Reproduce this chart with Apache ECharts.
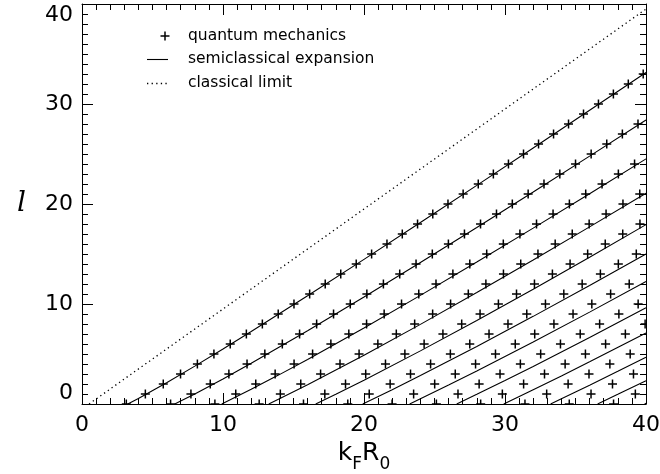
<!DOCTYPE html>
<html><head><meta charset="utf-8">
<script src="https://cdn.jsdelivr.net/npm/echarts/dist/echarts.min.js"></script>
<style>html,body{margin:0;padding:0;background:#fff}#c{width:660px;height:474px}</style>
</head><body><div id="c"></div>
<script>
// ---- data: tick labels ----
const xTicks = [0, 10, 20, 30, 40];
const yTicks = [0, 10, 20, 30, 40];

// ---- quantum mechanics: k_F R_0 value for l = 0,1,2,... on each branch n ----
const qm1 = [3.142, 4.493, 5.764, 6.988, 8.183, 9.356, 10.513, 11.657, 12.791, 13.916, 15.034, 16.145, 17.250, 18.351, 19.448, 20.540, 21.629, 22.715, 23.798, 24.878, 25.956, 27.031, 28.104, 29.175, 30.245, 31.313, 32.379, 33.443, 34.506, 35.568, 36.628, 37.687, 38.745, 39.802];
const qm2 = [6.283, 7.725, 9.095, 10.417, 11.705, 12.967, 14.207, 15.431, 16.641, 17.840, 19.025, 20.203, 21.376, 22.533, 23.691, 24.845, 25.985, 27.124, 28.264, 29.396, 30.519, 31.642, 32.765, 33.888, 35.002, 36.110, 37.217, 38.324, 39.432];
const qm3 = [9.425, 10.904, 12.323, 13.698, 15.040, 16.354, 17.650, 18.923, 20.182, 21.429, 22.662, 23.884, 25.106, 26.304, 27.503, 28.702, 29.880, 31.057, 32.235, 33.408, 34.566, 35.724, 36.882, 38.040, 39.189];
const qm4 = [12.566, 14.066, 15.515, 16.921, 18.298, 19.651, 20.983, 22.291, 23.593, 24.868, 26.141, 27.397, 28.644, 29.890, 31.115, 32.337, 33.559, 34.769, 35.968, 37.167, 38.366, 39.557];
const qm5 = [15.708, 17.221, 18.689, 20.121, 21.523, 22.899, 24.264, 25.597, 26.929, 28.231, 29.532, 30.816, 32.089, 33.362, 34.616, 35.862, 37.109, 38.349, 39.571];
const qm6 = [18.850, 20.371, 21.854, 23.299, 24.723, 26.125, 27.502, 28.867, 30.211, 31.544, 32.869, 34.171, 35.473, 36.765, 38.038, 39.311];
const qm7 = [21.991, 23.519, 25.013, 26.472, 27.912, 29.325, 30.727, 32.107, 33.470, 34.826, 36.158, 37.491, 38.810];
const qm8 = [25.133, 26.666, 28.165, 29.647, 31.090, 32.530, 33.933, 35.334, 36.712, 38.077, 39.443];
const qm9 = [28.274, 29.812, 31.320, 32.802, 34.264, 35.704, 37.134, 38.536, 39.937];
const qm10 = [31.416, 32.956, 34.476, 35.957, 37.438, 38.879];
const qm11 = [34.558, 36.101, 37.624, 39.112];
const qm12 = [37.699, 39.244];

// ---- semiclassical expansion: [k_F R_0, l] along each branch ----
const sc1 = [[3.248,0],[4,0.554],[6,2.128],[8,3.789],[10,5.502],[12,7.251],[16,10.824],[20,14.463],[24,18.147],[28,21.865],[32,25.608],[36,29.372],[40,33.153]];
const sc2 = [[6.58,0],[7,0.293],[8,1.011],[10,2.510],[12,4.072],[16,7.324],[20,10.693],[24,14.141],[28,17.647],[32,21.199],[36,24.787],[40,28.404]];
const sc3 = [[9.91,0],[10,0.060],[12,1.468],[14,2.939],[16,4.459],[20,7.606],[24,10.861],[28,14.195],[32,17.589],[36,21.032],[40,24.515]];
const sc4 = [[13.245,0],[14,0.518],[16,1.927],[20,4.878],[24,7.962],[28,11.143],[32,14.399],[36,17.714],[40,21.078]];
const sc5 = [[16.577,0],[18,0.976],[20,2.385],[24,5.312],[28,8.354],[32,11.482],[36,14.680],[40,17.936]];
const sc6 = [[19.909,0],[20,0.061],[22,1.434],[24,2.844],[28,5.754],[32,8.764],[36,11.854],[40,15.009]];
const sc7 = [[23.24,0],[24,0.514],[26,1.892],[28,3.302],[32,6.200],[36,9.187],[40,12.247]];
const sc8 = [[26.575,0],[28,0.968],[30,2.351],[32,3.760],[36,6.650],[40,9.618]];
const sc9 = [[29.91,0],[32,1.423],[34,2.809],[36,4.219],[40,7.100]];
const sc10 = [[33.236,0],[34,0.514],[36,1.879],[38,3.268],[40,4.677]];
const sc11 = [[36.569,0],[38,0.966],[40,2.335]];
const sc12 = [[39.903,0],[40,0.065]];

// ---- classical limit ----
const classical = [[0.5,0],[40,39.5]];

// ---- legend labels ----
const legendLabels = ['quantum mechanics', 'semiclassical expansion', 'classical limit'];

const qmBranches = [qm1, qm2, qm3, qm4, qm5, qm6, qm7, qm8, qm9, qm10, qm11, qm12];
const scBranches = [sc1, sc2, sc3, sc4, sc5, sc6, sc7, sc8, sc9, sc10, sc11, sc12];

const qmData = [];
qmBranches.forEach(b => b.forEach((x, l) => qmData.push([x, l])));

const chart = echarts.init(document.getElementById('c'), null, {renderer: 'canvas'});

const axisBase = {
  type: 'value', min: 0, max: 40, interval: 10,
  axisLine: {show: true, onZero: false, lineStyle: {color: '#000', width: 1}},
  axisTick: {show: true, inside: true, length: 11, lineStyle: {color: '#000', width: 1}},
  minorTick: {show: true, splitNumber: 10, length: 6, lineStyle: {color: '#000', width: 1}},
  splitLine: {show: false},
  minorSplitLine: {show: false}
};
const labelStyle = {color: '#000', fontFamily: 'DejaVu Sans', fontSize: 22};

const series = [];
scBranches.forEach((b, i) => series.push({
  name: legendLabels[1], type: 'line', data: b, symbol: 'none', showSymbol: false,
  lineStyle: {color: '#000', width: 1.1}, silent: true, clip: true, z: 2
}));
series.push({
  name: legendLabels[2], type: 'line', data: classical, symbol: 'none', showSymbol: false,
  lineStyle: {color: '#000', width: 1.3, type: [1.3, 3.3]}, silent: true, clip: true, z: 2
});
series.push({
  name: legendLabels[0], type: 'custom', data: qmData, clip: true, silent: true, z: 3,
  encode: {x: 0, y: 1},
  renderItem: function (params, api) {
    const p = api.coord([api.value(0), api.value(1)]);
    const h = 4.5;
    return {type: 'group', children: [
      {type: 'line', shape: {x1: p[0] - h, y1: p[1], x2: p[0] + h, y2: p[1]}, style: {stroke: '#000', lineWidth: 1.5}},
      {type: 'line', shape: {x1: p[0], y1: p[1] - h, x2: p[0], y2: p[1] + h}, style: {stroke: '#000', lineWidth: 1.5}}
    ]};
  }
});

const legendFont = {fontFamily: 'DejaVu Sans', fontSize: 15.5, fill: '#000'};

chart.setOption({
  animation: false,
  backgroundColor: '#fff',
  grid: {left: 82, right: 14, top: 4, bottom: 70, containLabel: false, outerBoundsMode: 'none'},
  xAxis: [
    Object.assign({}, axisBase, {
      position: 'bottom',
      axisLabel: Object.assign({}, labelStyle, {margin: 10, formatter: v => xTicks.includes(v) ? String(v) : ''}),
      name: '{m|k}{s|F}{m|R}{s|0}', nameLocation: 'middle', nameGap: 28,
      nameTextStyle: {rich: {
        m: {fontFamily: 'DejaVu Sans', fontSize: 25, color: '#000', lineHeight: 40, verticalAlign: 'middle'},
        s: {fontFamily: 'DejaVu Sans', fontSize: 17, color: '#000', verticalAlign: 'bottom'}
      }}
    }),
    Object.assign({}, axisBase, {position: 'top', axisLabel: {show: false}})
  ],
  yAxis: [
    Object.assign({}, axisBase, {
      position: 'left',
      axisLabel: Object.assign({}, labelStyle, {margin: 9, verticalAlignMinLabel: 'bottom', verticalAlignMaxLabel: 'top',
        formatter: v => yTicks.includes(v) ? String(v) : ''}),
      name: 'l', nameLocation: 'middle', nameGap: 56, nameRotate: 0,
      nameTextStyle: {fontFamily: 'DejaVu Serif', fontStyle: 'italic', fontSize: 28, color: '#000'}
    }),
    Object.assign({}, axisBase, {position: 'right', axisLabel: {show: false}})
  ],
  series: series,
  graphic: [
    {type: 'line', shape: {x1: 160.5, y1: 36, x2: 169.5, y2: 36}, style: {stroke: '#000', lineWidth: 1.5}},
    {type: 'line', shape: {x1: 165, y1: 31.5, x2: 165, y2: 40.5}, style: {stroke: '#000', lineWidth: 1.5}},
    {type: 'text', x: 188, y: 36, style: Object.assign({text: legendLabels[0], textVerticalAlign: 'middle', verticalAlign: 'middle'}, legendFont)},
    {type: 'line', shape: {x1: 147, y1: 59.5, x2: 168, y2: 59.5}, style: {stroke: '#000', lineWidth: 1.1}},
    {type: 'text', x: 188, y: 59, style: Object.assign({text: legendLabels[1], textVerticalAlign: 'middle', verticalAlign: 'middle'}, legendFont)},
    {type: 'line', shape: {x1: 147, y1: 83.5, x2: 168, y2: 83.5}, style: {stroke: '#000', lineWidth: 1.3, lineDash: [1.3, 3.3]}},
    {type: 'text', x: 188, y: 83, style: Object.assign({text: legendLabels[2], textVerticalAlign: 'middle', verticalAlign: 'middle'}, legendFont)}
  ]
});
</script></body></html>
